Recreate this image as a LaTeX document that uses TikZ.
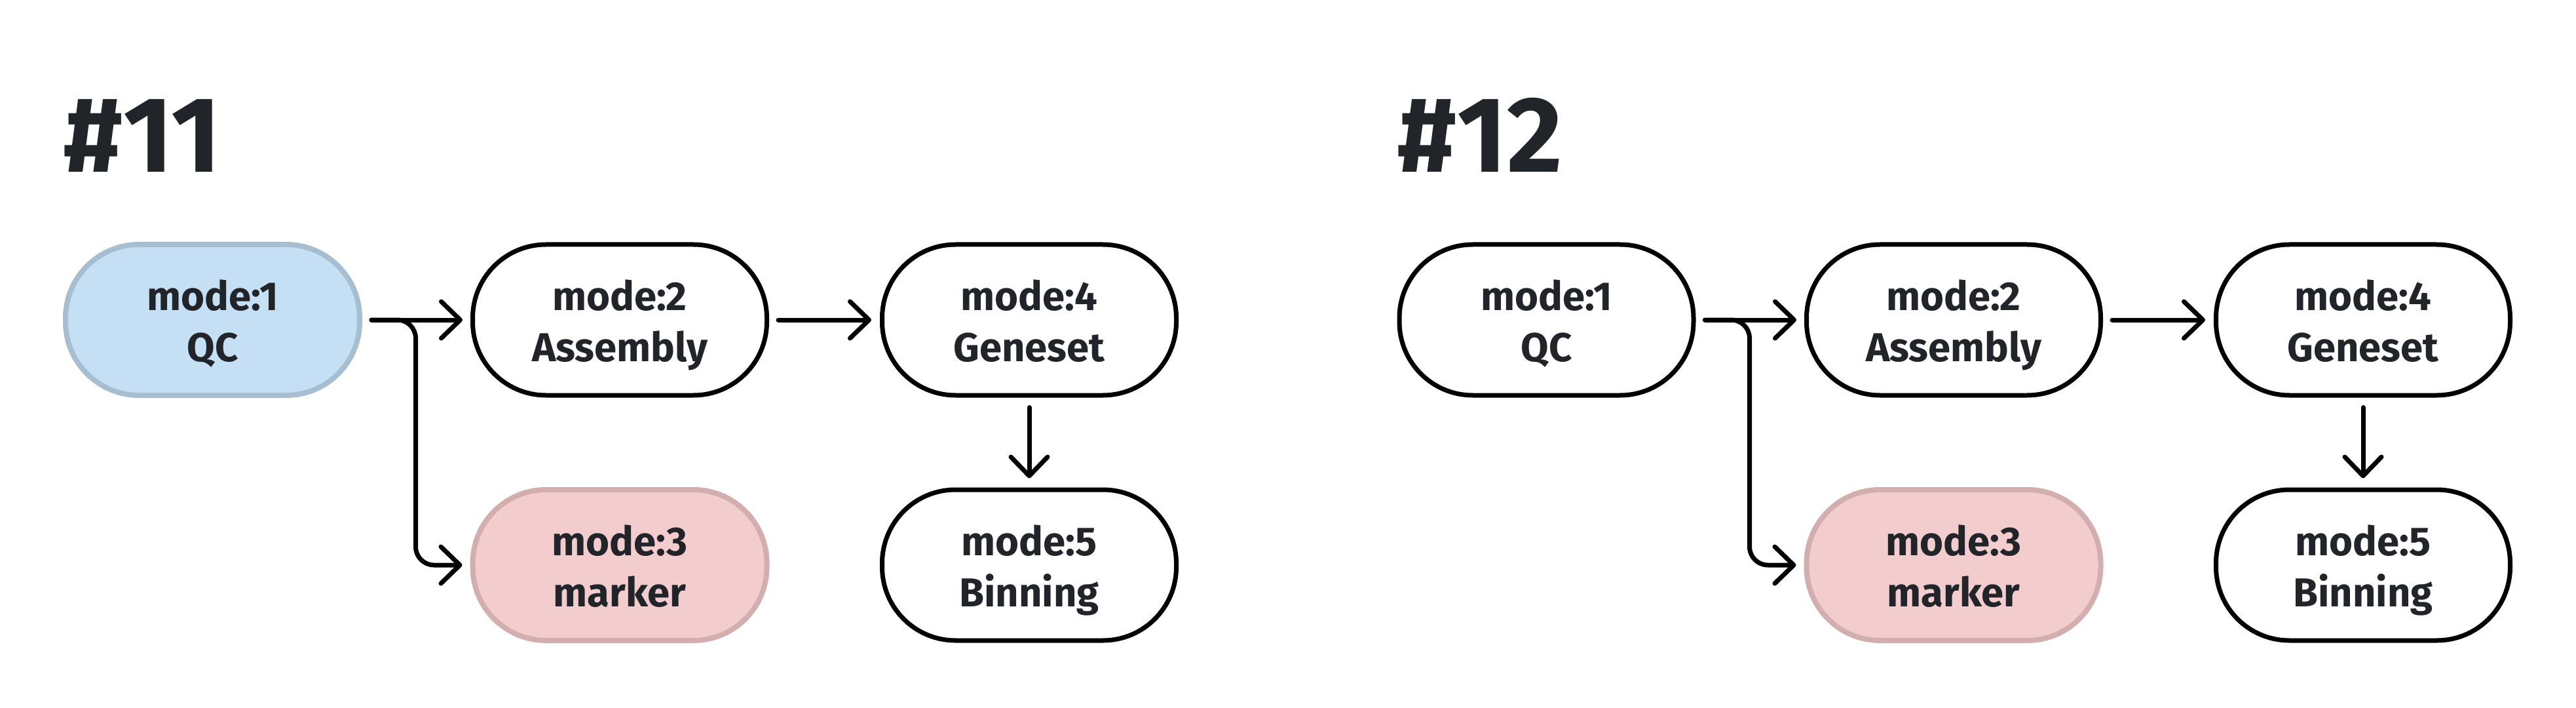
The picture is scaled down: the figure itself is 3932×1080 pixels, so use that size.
\documentclass[tikz,border=0pt]{standalone}
\usepackage{fontspec}
\setmainfont{Fira Sans}
\usetikzlibrary{arrows.meta,calc}
\definecolor{inkc}{RGB}{33,36,41}
\definecolor{qcfill}{RGB}{197,224,244}
\definecolor{qcdraw}{RGB}{166,190,208}
\definecolor{mkfill}{RGB}{243,205,206}
\definecolor{mkdraw}{RGB}{210,174,174}
\tikzset{
  x=0.25pt, y=-0.25pt,
  modebox/.style={draw=black, line width=1.75pt, fill=white, rounded corners=28pt,
    minimum width=112.25pt, minimum height=57.5pt, inner sep=0pt, align=center,
    text=inkc, font=\bfseries\fontsize{15.4pt}{19.5pt}\selectfont},
  qcbox/.style={modebox, draw=qcdraw, fill=qcfill, line width=2pt},
  mkbox/.style={modebox, draw=mkdraw, fill=mkfill, line width=2pt},
  titletext/.style={anchor=base west, inner sep=0pt, text=inkc,
    font=\bfseries\fontsize{41pt}{48pt}\selectfont},
  flow/.style={draw=black, line width=1.75pt, line cap=round, line join=round,
    -{Straight Barb[length=7.25pt,width=14pt,round]}},
}
\newcommand\twoline[2]{\rule{0pt}{15.5pt}#1\\#2\rule[-3.5pt]{0pt}{3.5pt}}
\newcommand\drawpipeline[4]{%
  \begin{scope}[shift={(#2,0)}]
    \node[titletext] (#1title) at (96,263) {\##3};
    \node[#4] (#1qc) at (324.5,488) {\twoline{mode:1}{QC}};
    \node[modebox] (#1asm) at (946,488) {\twoline{mode:2}{Assembly}};
    \node[modebox] (#1gen) at (1571,488) {\twoline{mode:4}{Geneset}};
    \node[mkbox] (#1mk) at (946,862) {\twoline{mode:3}{marker}};
    \node[modebox] (#1bin) at (1571,862) {\twoline{mode:5}{Binning}};
    \draw[flow, shorten <=3.5pt, shorten >=3pt] (#1qc.east) -- (#1asm.west);
    \draw[flow, rounded corners=7pt, shorten <=3.5pt, shorten >=3pt]
      (#1qc.east) -| ([xshift=-20.75pt]#1mk.west) -- (#1mk.west);
    \draw[flow, shorten <=3.5pt, shorten >=3.25pt] (#1asm.east) -- (#1gen.west);
    \draw[flow, shorten <=3.75pt, shorten >=3.5pt] (#1gen.south) -- (#1bin.north);
  \end{scope}}
\begin{document}
\begin{tikzpicture}
  \useasboundingbox (0,0) rectangle (3932,1080);
  \drawpipeline{a}{0}{11}{qcbox}
  \drawpipeline{b}{2036}{12}{modebox}
\end{tikzpicture}
\end{document}
